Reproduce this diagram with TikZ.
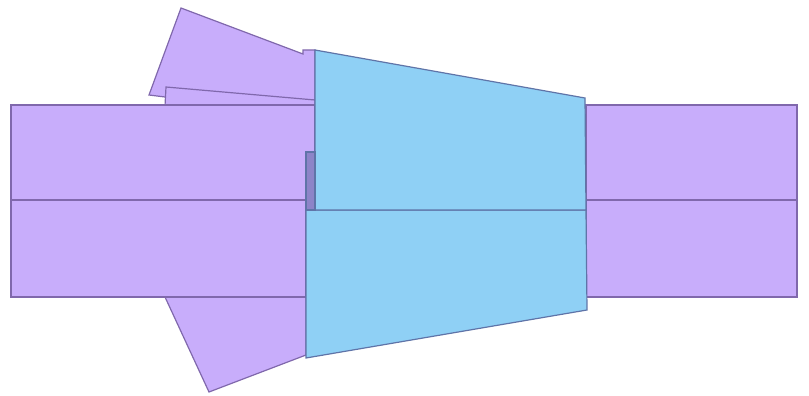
\documentclass[tikz,border=0pt]{standalone}
\tikzset{
  purp/.style={fill=purpfill,draw=purpline,line width=1.2pt,line join=miter},
  blu/.style={fill=blufill,draw=bluline,line width=1.2pt,line join=miter},
}
\definecolor{purpfill}{HTML}{C8ADFB}
\definecolor{purpline}{HTML}{8068AC}
\definecolor{blufill}{HTML}{8FD0F5}
\definecolor{bluline}{HTML}{5F74A8}
\definecolor{slotfill}{HTML}{8D84C8}
\begin{document}
\begin{tikzpicture}[x=1pt,y=-1pt]
\useasboundingbox (0,0) rectangle (809,396);
% top flap
\draw[purp] (181,8) -- (303,54) -- (303,50) -- (315,50) -- (315,100) -- (165,97) -- (149,95) -- cycle;
% second flap
\draw[purp] (166,87) -- (315,100) -- (315,106) -- (165,106) -- cycle;
% bottom flap
\draw[purp] (165,297) -- (209,392) -- (306,355) -- (306,297) -- cycle;
% bands
\draw[purp] (11,105) rectangle (315,200);
\draw[purp] (11,200) rectangle (306,297);
\draw[purp] (586,105) rectangle (797,200);
\draw[purp] (586,200) rectangle (797,297);
% blue panels
\draw[blu] (306,210) -- (586,210) -- (587,310) -- (306,358) -- cycle;
\draw[blu] (315,50) -- (585,98) -- (586,210) -- (315,210) -- cycle;
% slot
\draw[blu,fill=slotfill] (306,152) -- (315,152) -- (315,210) -- (306,210) -- cycle;
\end{tikzpicture}
\end{document}
